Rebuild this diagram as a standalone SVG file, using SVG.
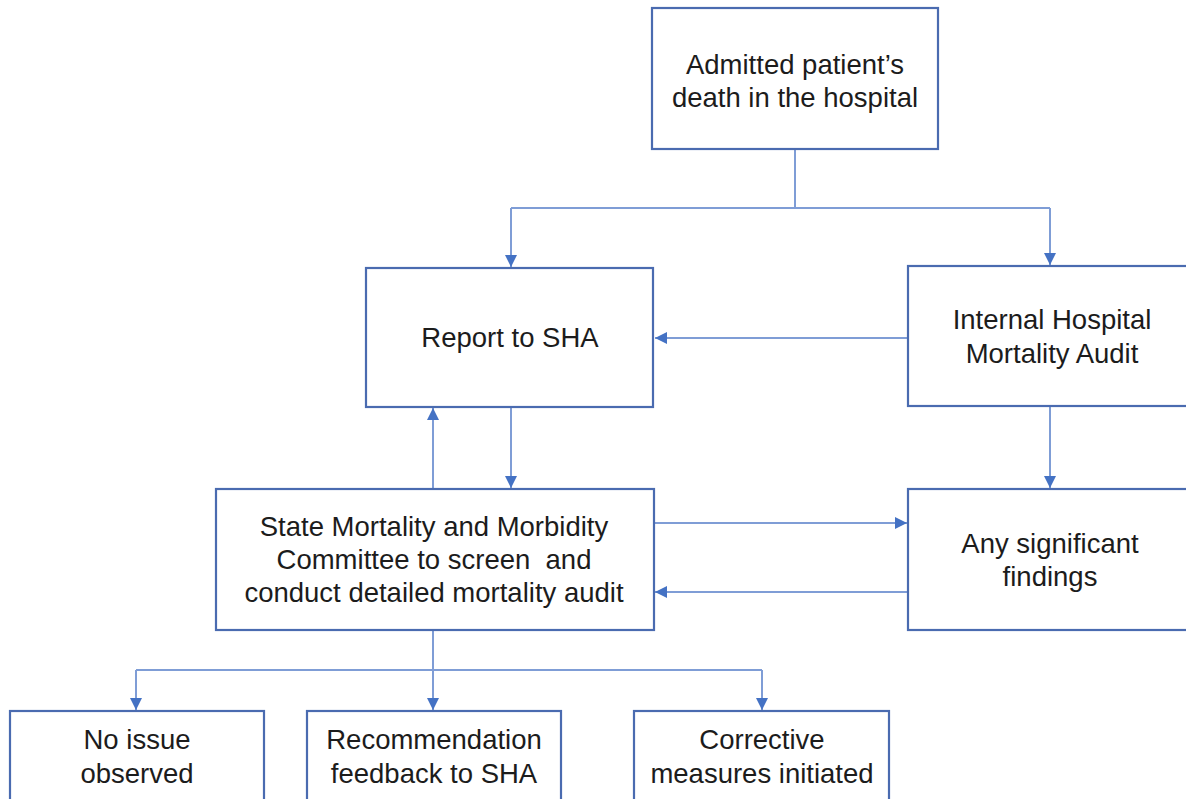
<svg xmlns="http://www.w3.org/2000/svg" width="1186" height="799" viewBox="0 0 1186 799">
<defs>
<style>
.box{fill:#fff;stroke:#4a6bb0;stroke-width:2.2}
.lbl{font-family:"Liberation Sans",Arial,sans-serif;font-size:27.5px;fill:#1c1c1c;text-anchor:middle;white-space:pre}
.con{fill:none;stroke:#7f9dd6;stroke-width:2}
</style>
<marker id="ah" markerUnits="userSpaceOnUse" markerWidth="12" markerHeight="12" viewBox="0 0 12 12" refX="12" refY="6" orient="auto">
<path d="M0,0 L12,6 L0,12 Z" fill="#4472c4"/>
</marker>
</defs>
<rect width="1186" height="799" fill="#fff"/>
<g id="connectors">
<path class="con" d="M795 149 V208"/>
<path class="con" d="M511 208 H1050"/>
<path class="con" d="M511 208 V267" marker-end="url(#ah)"/>
<path class="con" d="M1050 208 V265" marker-end="url(#ah)"/>
<path class="con" d="M908 338 H655" marker-end="url(#ah)"/>
<path class="con" d="M433 489 V408" marker-end="url(#ah)"/>
<path class="con" d="M511 407 V488" marker-end="url(#ah)"/>
<path class="con" d="M1050 406 V488" marker-end="url(#ah)"/>
<path class="con" d="M654 523 H907" marker-end="url(#ah)"/>
<path class="con" d="M908 592 H655" marker-end="url(#ah)"/>
<path class="con" d="M433 630 V670"/>
<path class="con" d="M136 670 H762"/>
<path class="con" d="M136 670 V710" marker-end="url(#ah)"/>
<path class="con" d="M433 670 V710" marker-end="url(#ah)"/>
<path class="con" d="M762 670 V710" marker-end="url(#ah)"/>
</g>
<g id="death">
<rect class="box" x="652" y="8" width="286" height="141"/>
<text class="lbl" x="795" y="74">Admitted patient’s</text>
<text class="lbl" x="795" y="107">death in the hospital</text>
</g>
<g id="report">
<rect class="box" x="366" y="268" width="287" height="139"/>
<text class="lbl" x="510" y="347">Report to SHA</text>
</g>
<g id="internal">
<rect class="box" x="908" y="266" width="300" height="140"/>
<text class="lbl" x="1052" y="329">Internal Hospital</text>
<text class="lbl" x="1052" y="363">Mortality Audit</text>
</g>
<g id="state">
<rect class="box" x="216" y="489" width="438" height="141"/>
<text class="lbl" x="434" y="536">State Mortality and Morbidity</text>
<text class="lbl" x="434" y="569">Committee to screen  and</text>
<text class="lbl" x="434" y="602">conduct detailed mortality audit</text>
</g>
<g id="findings">
<rect class="box" x="908" y="489" width="300" height="141"/>
<text class="lbl" x="1050" y="553">Any significant</text>
<text class="lbl" x="1050" y="586">findings</text>
</g>
<g id="noissue">
<rect class="box" x="10" y="711" width="254" height="100"/>
<text class="lbl" x="137" y="749">No issue</text>
<text class="lbl" x="137" y="783">observed</text>
</g>
<g id="recommendation">
<rect class="box" x="307" y="711" width="254" height="100"/>
<text class="lbl" x="434" y="749">Recommendation</text>
<text class="lbl" x="434" y="783">feedback to SHA</text>
</g>
<g id="corrective">
<rect class="box" x="634" y="711" width="255" height="100"/>
<text class="lbl" x="762" y="749">Corrective</text>
<text class="lbl" x="762" y="783">measures initiated</text>
</g>
</svg>
